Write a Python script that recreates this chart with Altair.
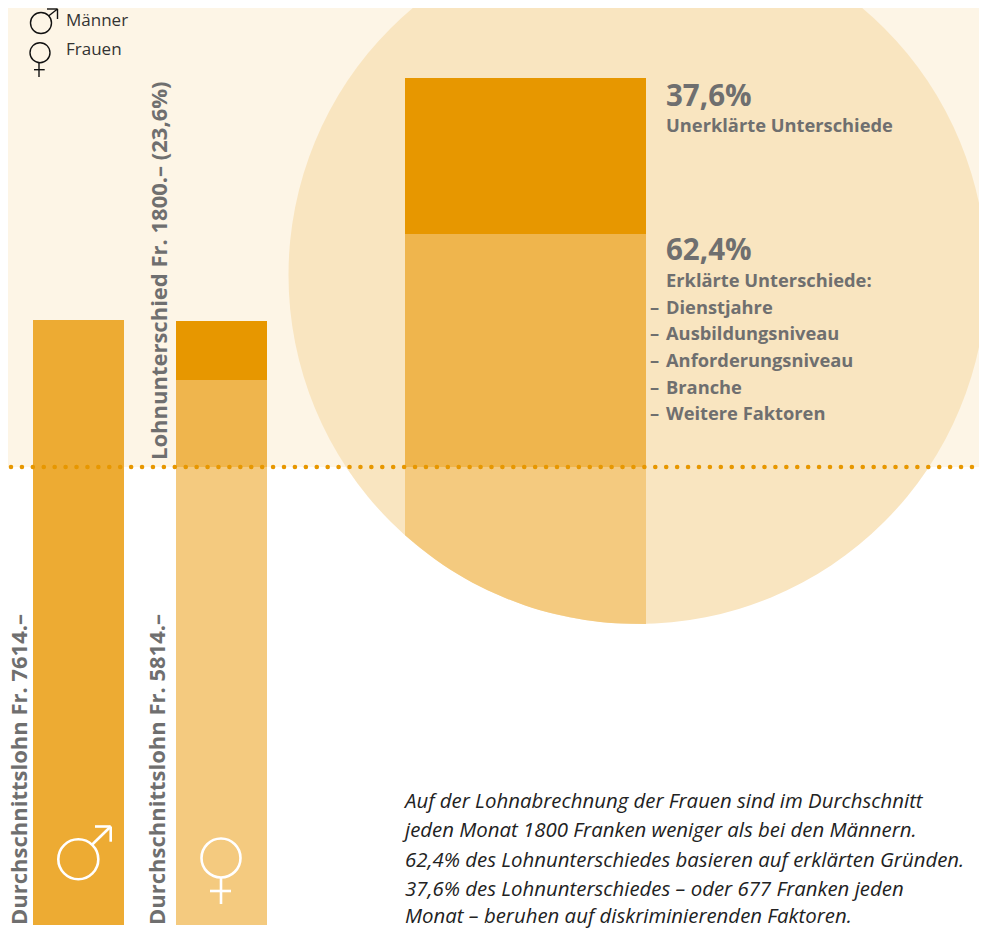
import altair as alt
import pandas as pd

# ---- colours
CREAM = "#FDF5E6"
DISC = "#F9E5C0"
DARK = "#E79700"
MID = "#EFB54D"
MEN = "#EDAB33"
LIGHT = "#F4CA7F"
GREY = "#6F6F6F"

# ---- values (chart units, y grows downwards)
band_x = [8, 987]
band_y = [8, 467]

bar_names = ["Männer", "Frauen erklärt oben", "Frauen unten", "Frauen Differenz", "Anteil unerklärt", "Anteil erklärt"]
bar_x0 = [33, 176, 176, 176, 405, 405]
bar_x1 = [124, 267, 267, 267, 646, 646]
bar_y0 = [320, 380, 467, 321, 78, 234]
bar_y1 = [925, 467, 925, 380, 234, 467]
bar_col = [MEN, MID, LIGHT, DARK, DARK, MID]

disc_x = [637.5]
disc_y = [275]
disc_size = [487204]

cap_x = [405, 435, 465, 495, 525, 555, 585, 615, 646]
cap_y = [535.3, 559.2, 578.4, 593.6, 605.4, 614.1, 620.0, 623.3, 624.0]
cap_top = [467] * 9

dot_line_x = [11]
dot_line_x2 = [987]
dot_line_y = [467]

ring_x = [41, 40, 78.3, 221]
ring_y = [23, 52.7, 859.3, 858]
ring_size = [441, 400, 1600, 1521]
ring_col = ["#111111", "#111111", "#FFFFFF", "#FFFFFF"]
ring_w = [1.4, 1.4, 2.6, 2.6]

seg_x0 = [48.5, 47, 57.5, 39, 34, 91.7, 95, 110.7, 221, 210]
seg_x1 = [57.5, 57.5, 57.5, 39, 44.7, 110.7, 110.7, 110.7, 221, 231]
seg_y0 = [16, 9, 9, 63, 69.7, 845, 826.5, 826.5, 878, 891]
seg_y1 = [9, 9, 19, 77, 69.7, 826.5, 826.5, 841.7, 904, 891]
seg_col = ["#111111"] * 5 + ["#FFFFFF"] * 5
seg_w = [1.4] * 5 + [2.6] * 5

legend_text = ["Männer", "Frauen"]
legend_x = [66, 66]
legend_y = [21, 50]

vert_text = ["Durchschnittslohn Fr. 7614.–", "Durchschnittslohn Fr. 5814.–", "Lohnunterschied Fr. 1800.– (23,6%)"]
vert_x = [20, 158, 160]
vert_y = [925, 925, 460]

pct_text = ["37,6%", "62,4%"]
pct_x = [666, 666]
pct_y = [97, 251]

head_text = ["Unerklärte Unterschiede", "Erklärte Unterschiede:"]
head_x = [666, 666]
head_y = [127, 282]

item_text = ["Dienstjahre", "Ausbildungsniveau", "Anforderungsniveau", "Branche", "Weitere Faktoren"]
item_x = [666] * 5
item_y = [309, 335, 362, 389, 415]

dash_text = ["–"] * 5
dash_x = [650] * 5

note_text = ["Auf der Lohnabrechnung der Frauen sind im Durchschnitt",
             "jeden Monat 1800 Franken weniger als bei den Männern.",
             "62,4% des Lohnunterschiedes basieren auf erklärten Gründen.",
             "37,6% des Lohnunterschiedes – oder 677 Franken jeden",
             "Monat – beruhen auf diskriminierenden Faktoren."]
note_x = [405] * 5
note_y = [802, 831, 861, 890, 917]

# ---- scales
W, H = 971, 920
X = alt.Scale(domain=[8, 979], range=[0, W], nice=False, zero=False)
Y = alt.Scale(domain=[8, 928], range=[0, H], nice=False, zero=False)
ex = lambda f: alt.X(f, type="quantitative", scale=X, axis=None)
ey = lambda f: alt.Y(f, type="quantitative", scale=Y, axis=None)

band = alt.Chart(pd.DataFrame({"x": [band_x[0]], "x2": [band_x[1]], "y": [band_y[0]], "y2": [band_y[1]]})).mark_rect(
    color=CREAM).encode(x=ex("x"), x2="x2", y=ey("y"), y2="y2")

disc = alt.Chart(pd.DataFrame({"x": disc_x, "y": disc_y, "s": disc_size})).mark_point(
    shape="circle", filled=True, color=DISC, opacity=1).encode(
    x=ex("x"), y=ey("y"), size=alt.Size("s:Q", scale=None, legend=None))

bars = alt.Chart(pd.DataFrame({"n": bar_names, "x": bar_x0, "x2": bar_x1, "y": bar_y0, "y2": bar_y1, "c": bar_col})).mark_rect().encode(
    x=ex("x"), x2="x2", y=ey("y"), y2="y2", color=alt.Color("c:N", scale=None, legend=None))

cap = alt.Chart(pd.DataFrame({"x": cap_x, "y": cap_y, "y2": cap_top})).mark_area(
    color=LIGHT, interpolate="monotone", opacity=1).encode(x=ex("x"), y=ey("y"), y2="y2")

dots = alt.Chart(pd.DataFrame({"x": dot_line_x, "x2": dot_line_x2, "y": dot_line_y})).mark_rule(
    color=DARK, strokeWidth=4.6, strokeCap="round", strokeDash=[0.01, 10.91]).encode(x=ex("x"), x2="x2", y=ey("y"))

rings = alt.Chart(pd.DataFrame({"x": ring_x, "y": ring_y, "s": ring_size, "c": ring_col, "w": ring_w})).mark_point(
    shape="circle", filled=False, opacity=1).encode(
    x=ex("x"), y=ey("y"), size=alt.Size("s:Q", scale=None, legend=None),
    stroke=alt.Stroke("c:N", scale=None, legend=None),
    strokeWidth=alt.StrokeWidth("w:Q", scale=None, legend=None))

segs = alt.Chart(pd.DataFrame({"x": seg_x0, "x2": seg_x1, "y": seg_y0, "y2": seg_y1, "c": seg_col, "w": seg_w})).mark_rule().encode(
    x=ex("x"), x2="x2", y=ey("y"), y2="y2",
    color=alt.Color("c:N", scale=None, legend=None),
    strokeWidth=alt.StrokeWidth("w:Q", scale=None, legend=None))


def texts(t, x, y, **kw):
    base = dict(font="Open Sans", align="left", baseline="middle")
    base.update(kw)
    return alt.Chart(pd.DataFrame({"t": t, "x": x, "y": y})).mark_text(**base).encode(
        x=ex("x"), y=ey("y"), text="t:N")


layers = [
    band, disc, bars, cap, dots, rings, segs,
    texts(legend_text, legend_x, legend_y, fontSize=17, color="#333333"),
    texts(vert_text, vert_x, vert_y, fontSize=22, fontWeight="bold", color=GREY, angle=270),
    texts(pct_text, pct_x, pct_y, fontSize=29.5, fontWeight="bold", color=GREY),
    texts(head_text, head_x, head_y, fontSize=18.3, fontWeight="bold", color=GREY),
    texts(item_text, item_x, item_y, fontSize=18.3, fontWeight="bold", color=GREY),
    texts(dash_text, dash_x, item_y, fontSize=18.3, fontWeight="bold", color=GREY),
    texts(note_text, note_x, note_y, fontSize=20.4, fontStyle="italic", color="#222222"),
]

chart = alt.layer(*layers).properties(
    width=W, height=H, padding=0, background="white", autosize=alt.AutoSizeParams(type="none")
).configure_view(stroke=None)

chart.save("out.html", embed_options={"renderer": "svg", "actions": False})
